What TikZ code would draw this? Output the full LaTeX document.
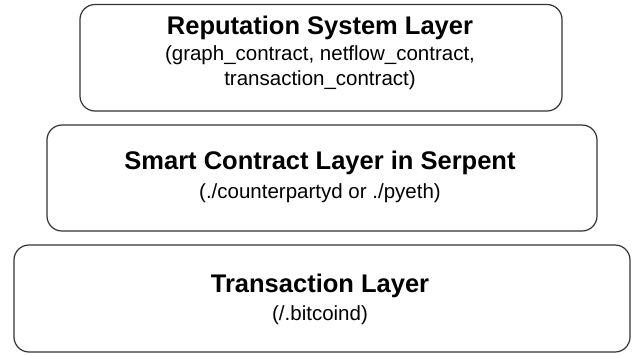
\documentclass[tikz,border=0pt]{standalone}
\usepackage{fontspec}
\setmainfont{Liberation Sans}
\begin{document}
\begin{tikzpicture}[x=1pt,y=-1pt,
  layerbox/.style={draw=black!80, line width=1.2pt, rounded corners=15pt, fill=white},
  ttl/.style={anchor=base, inner sep=0pt, font=\fontsize{25.5}{30}\selectfont\bfseries},
  subt/.style={anchor=base, inner sep=0pt, font=\fontsize{20.5}{24}\selectfont}]
\useasboundingbox (0,0) rectangle (638,354);
\fill[white] (0,0) rectangle (638,354);
% boxes
\draw[layerbox] (80,4.5) rectangle (562,111);
\node[inner sep=0pt] (rep) at (321,57.75) {};
\draw[layerbox] (47,125) rectangle (597,231);
\node[inner sep=0pt] (sc) at (322,178) {};
\draw[layerbox] (14,245) rectangle (630,352);
\node[inner sep=0pt] (tx) at (322,298.5) {};
% texts
\node[ttl] (repT) at (320,34) {Reputation System Layer};
\node[subt] (repS1) at (320,60) {(graph\_contract, netflow\_contract,};
\node[subt] (repS2) at (320,85) {transaction\_contract)};
\node[ttl] (scT) at (320,169) {Smart Contract Layer in Serpent};
\node[subt] (scS) at (320,198) {(./counterpartyd or ./pyeth)};
\node[ttl] (txT) at (320,292) {Transaction Layer};
\node[subt] (txS) at (320,320) {(/.bitcoind)};
\end{tikzpicture}
\end{document}
